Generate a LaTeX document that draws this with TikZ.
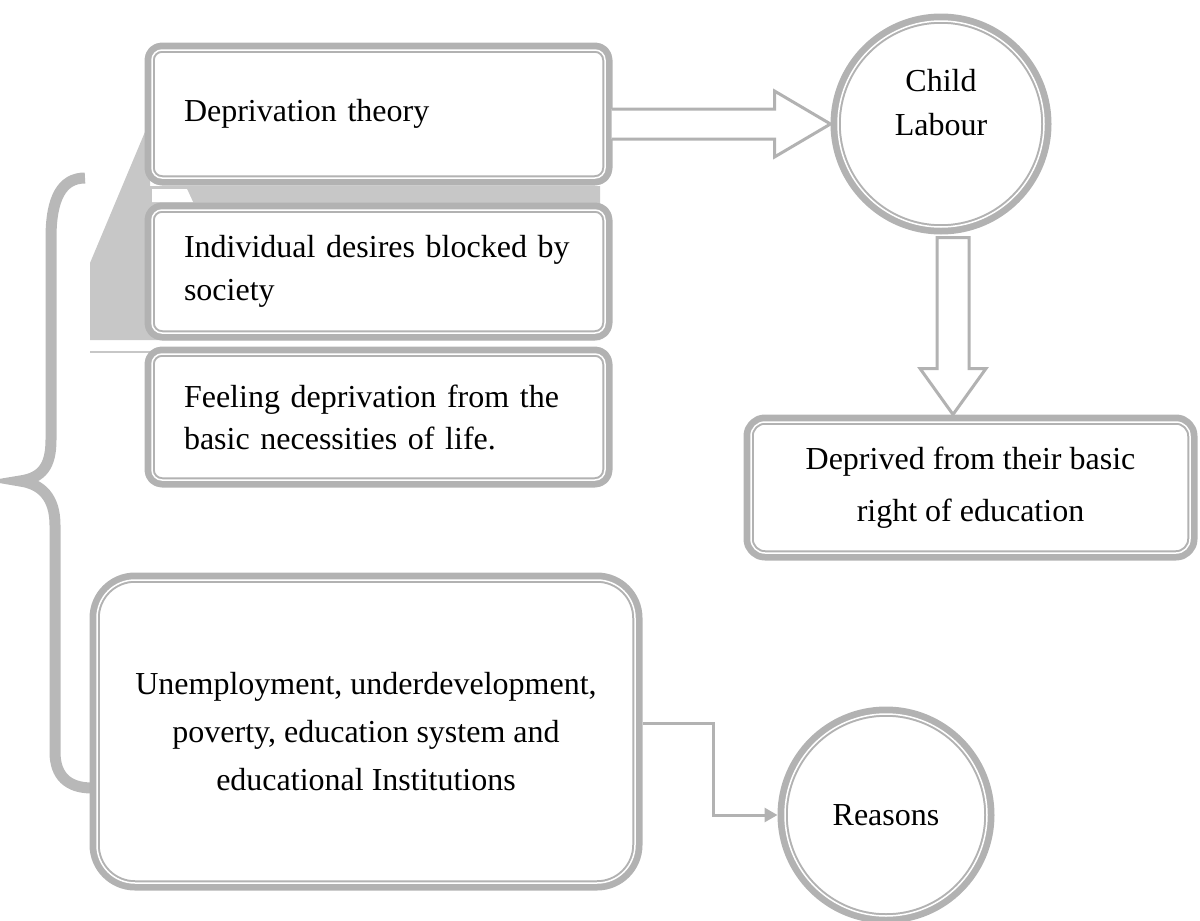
\documentclass[tikz,border=0pt]{standalone}
\usepackage{fontspec}
\setmainfont{Liberation Serif}
\usetikzlibrary{calc,arrows.meta}
\begin{document}
\begin{tikzpicture}[x=1pt,y=-1pt, line join=round,
    ring/.style={draw=black!30, line width=2pt, double=white, double distance=1.5pt,
      preaction={draw=black!30, line width=15pt}, fill=white, outer sep=7.5pt,
      font=\fontsize{32}{43}\selectfont},
    box/.style={ring, rectangle, rounded corners=10pt, align=left,
      inner xsep=32pt, text width=389pt, minimum height=#1},
    circ/.style={ring, circle, minimum size=#1, inner sep=0pt, align=center},
    hollow/.style={draw=black!30, line width=3pt, line join=miter, fill=white},
    elbow/.style={draw=black!30, line width=3pt, line join=miter,
      -{Triangle[length=13pt,width=14pt]}}]
    \useasboundingbox (0,0) rectangle (1200,921);
    % shading behind the left boxes
    \fill[black!22] (150,120) -- (90,263) -- (90,340) -- (600,340) -- (600,186) -- (150,186) -- cycle;
    \fill[white] (152,189) -- (187,189) -- (193,202) -- (152,202) -- cycle;
    \draw[black!22, line width=2pt] (90,352) -- (150,352);
    % brace
    \draw[black!28, line width=11pt, line cap=butt, line join=miter]
      (85,178) .. controls (62,178) and (51,198) .. (51,238) -- (51,440)
      .. controls (51,466) and (42,478) .. (20,481)
      .. controls (42,484) and (55,498) .. (55,525) -- (55,752)
      .. controls (55,776) and (68,788) .. (92,788);
    \node[box=128pt] (dep) at (378.5,114) {Deprivation theory};
    \node[box=123pt] (ind) at (378.5,271.5) {Individual desires blocked by\\society};
    \node[box=126pt, font=\fontsize{32}{42}\selectfont] (feel) at (378.5,417)
      {Feeling deprivation from the\\basic necessities of life.};
    \node[ring, rectangle, rounded corners=38pt, minimum width=538pt, minimum height=303pt,
      align=center, font=\fontsize{32}{48}\selectfont] (unemp) at (366,731.5)
      {Unemployment, underdevelopment,\\poverty, education system and\\educational Institutions};
    \node[ring, rectangle, rounded corners=14pt, minimum width=439pt, minimum height=131pt,
      align=center, font=\fontsize{32}{52}\selectfont] (deprived) at (970.5,487.5)
      {Deprived from their basic\\right of education};
    \node[circ=206pt, font=\fontsize{32}{44}\selectfont] (child) at (941,124) {Child\\Labour\\\mbox{}};
    \node[circ=202pt] (reasons) at (886,815) {Reasons};
    \def\sh{15} \def\hd{33} \def\hl{56} % arrow sizes
    \draw[hollow] ($(dep.east |- child.west)+(-1,-\sh)$) -- ($(child.west)+(-\hl,-\sh)$)
      -- ($(child.west)+(-\hl,-\hd)$) -- (child.west) -- ($(child.west)+(-\hl,\hd)$)
      -- ($(child.west)+(-\hl,\sh)$) -- ($(dep.east |- child.west)+(-1,\sh)$);
    \coordinate (dtop) at ($(child.south)+(12,0)$);
    \coordinate (dtip) at (dtop |- deprived.north);
    \draw[hollow] ($(dtop)+(-16,3)$) -- ($(dtip)+(-16,-46)$) -- ($(dtip)+(-33,-46)$) -- (dtip)
      -- ($(dtip)+(33,-46)$) -- ($(dtip)+(16,-46)$) -- ($(dtop)+(16,3)$) -- cycle;
    \draw[elbow] ([yshift=8.5pt]unemp.east) -- ++(71,0) |- (reasons.west);
\end{tikzpicture}
\end{document}
